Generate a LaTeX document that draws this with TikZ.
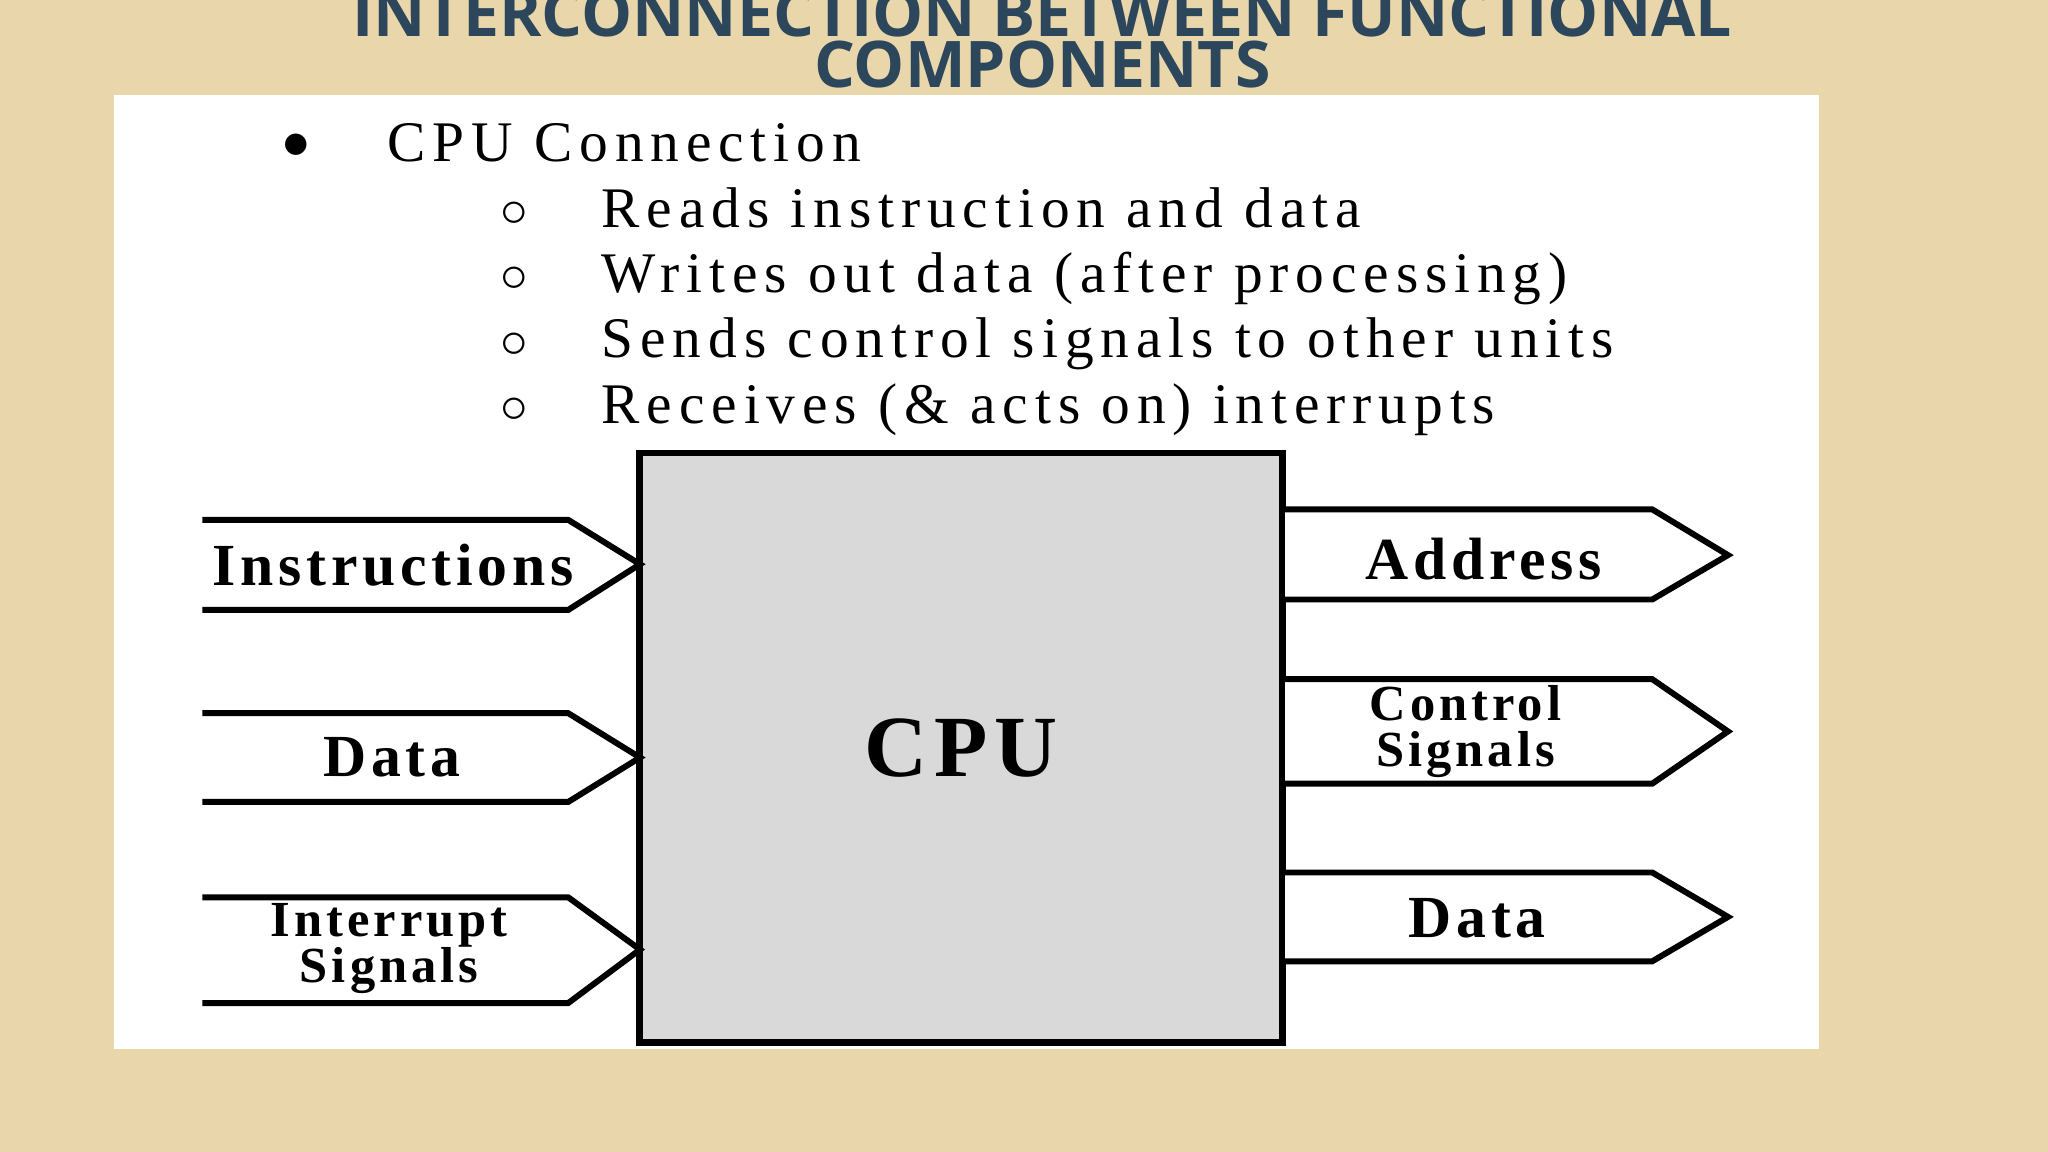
\documentclass[tikz,border=0pt]{standalone}
\usepackage{fontspec}
\setmainfont{Liberation Serif}
\newfontfamily\wideserif[LetterSpace=12]{Liberation Serif}
\newfontfamily\labserif[LetterSpace=8]{Liberation Serif}
\newfontfamily\titlefont{Open Sans}
\begin{document}
\begin{tikzpicture}[x=0.01cm,y=-0.01cm,
  arr/.style={line width=1.3pt,fill=white,line join=miter},
  lab/.style={font=\labserif\bfseries\fontsize{13}{13}\selectfont,align=center},
  lab2/.style={font=\labserif\bfseries\fontsize{11}{10}\selectfont,align=center},
  bl/.style={anchor=base west,inner sep=0,font=\wideserif\fontsize{12.5}{14}\selectfont}]
\useasboundingbox (0,0) rectangle (1568,882);
\fill[color={rgb,255:red,233;green,214;blue,170}] (0,0) rectangle (1568,882);
\fill[white] (87,73) rectangle (1393,803);
\node[font=\titlefont\bfseries\fontsize{14}{14}\selectfont,text={rgb,255:red,44;green,70;blue,92},align=center] (title) at (798,30) {INTERCONNECTION BETWEEN FUNCTIONAL\\[-3pt]COMPONENTS};
\node[font=\fontsize{12}{12}\selectfont] (b0) at (227,112) {$\bullet$};
\node[bl] (t0) at (296,124) {CPU Connection};
\foreach \y/\t [count=\i] in {174/Reads instruction and data,224/Writes out data (after processing),274/Sends control signals to other units,324/Receives (\& acts on) interrupts}{
  \node[font=\fontsize{12}{12}\selectfont] (c\i) at (394,\y-10) {$\circ$};
  \node[bl] (s\i) at (460,\y) {\t};
}
\node[draw,line width=1.5pt,fill={rgb,255:red,217;green,217;blue,217},inner sep=0,minimum width=4.92cm,minimum height=4.51cm] (cpu) at (736,572.5) {};
\node[font=\labserif\bfseries\fontsize{19}{19}\selectfont] (cpulab) at (cpu) {CPU};
% left arrows
\draw[arr] (155,398) -- (435,398) -- (490,432) -- (435,467) -- (155,467);
\draw[arr] (155,546) -- (435,546) -- (490,580) -- (435,614) -- (155,614);
\draw[arr] (155,687) -- (435,687) -- (490,727) -- (435,768) -- (155,768);
\node[lab] (l1) at (301,433) {Instructions};
\node[lab] (l2) at (300,580) {Data};
\node[lab2] (l3) at (298,726) {Interrupt\\Signals};
% right arrows
\draw[arr] (984,390) -- (1265,390) -- (1323,425) -- (1265,459) -- (984,459);
\draw[arr] (984,520) -- (1265,520) -- (1323,560) -- (1265,600) -- (984,600);
\draw[arr] (984,668) -- (1265,668) -- (1323,702) -- (1265,736) -- (984,736);
\node[lab] (r1) at (1136,428) {Address};
\node[lab2] (r2) at (1122,560) {Control\\Signals};
\node[lab] (r3) at (1131,703) {Data};
\end{tikzpicture}
\end{document}
